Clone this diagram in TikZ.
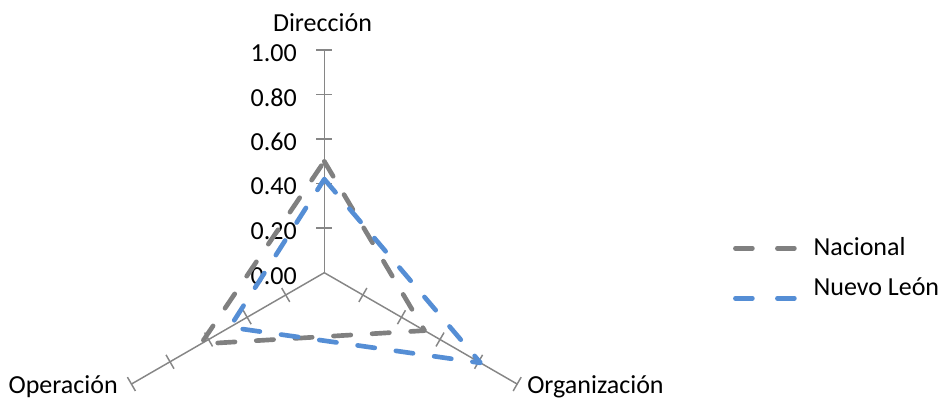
\documentclass[tikz,border=0pt]{standalone}
\usepackage{fontspec}
\setmainfont{Carlito}
\definecolor{axisgray}{HTML}{868686}
\definecolor{natgray}{HTML}{808080}
\definecolor{nlblue}{HTML}{558ED5}

\begin{document}
\begin{tikzpicture}[
    x=0.75pt, y=0.75pt,
    axis/.style={draw=axisgray, line width=1.1pt},
    series/.style={line width=3.5pt, line cap=round, line join=round,
        dash pattern=on 13pt off 16pt},
    nacional/.style={series, draw=natgray},
    nuevoleon/.style={series, draw=nlblue},
    legline/.style={line width=3.5pt, line cap=round,
        dash pattern=on 12.75pt off 18.75pt},
    axlabel/.style={font=\fontsize{19.5}{23}\selectfont, inner sep=0pt},
    ticklabel/.style={font=\fontsize{19.5}{23}\selectfont, inner sep=0pt, anchor=east}
]
    \useasboundingbox (-324.3,-127.3) rectangle (616.7,272.7);

    % axes
    \coordinate (o) at (0,0);
    \coordinate (dir) at (90:222.7);
    \coordinate (org) at (-30:222.7);
    \coordinate (ope) at (210:222.7);
    \draw[axis] (o) -- (dir);
    \draw[axis] (o) -- (org);
    \draw[axis] (o) -- (ope);
    \foreach \a in {90,-30,210}
        \foreach \k in {1,...,5}
            \draw[axis] (\a:\k*44.54) ++(\a+90:8) -- ++(\a-90:16);

    % scale
    \foreach \v/\t in {0/0.00, 1/0.20, 2/0.40, 3/0.60, 4/0.80, 5/1.00}
        \node[ticklabel] (t\v) at (-27.3,\v*44.54-3) {\t};

    % axis names
    \node[axlabel, anchor=base] (ldir) at (-1.8,241) {Dirección};
    \node[axlabel, anchor=base east] (lope) at (-206.3,-121) {Operación};
    \node[axlabel, anchor=base west] (lorg) at (202.7,-121) {Organización};

    % data
    \coordinate (n1) at (90:0.50*222.7);
    \coordinate (n2) at (-30:0.52*222.7);
    \coordinate (n3) at (210:0.64*222.7);
    \coordinate (l1) at (90:0.42*222.7);
    \coordinate (l2) at (-30:0.81*222.7);
    \coordinate (l3) at (210:0.49*222.7);
    \draw[nacional] (n1) -- (n2) -- (n3) -- cycle;
    \draw[nuevoleon] (l1) -- (l2) -- (l3) -- cycle;

    % legend
    \coordinate (a1) at (411.1,24.4);
    \coordinate (b1) at (470.3,24.4);
    \coordinate (a2) at (411.1,-25.6);
    \coordinate (b2) at (470.3,-25.6);
    \draw[legline, draw=natgray] (a1) -- (b1);
    \draw[legline, draw=nlblue] (a2) -- (b2);
    \node[axlabel, anchor=base west] (leg1) at (489,17.7) {Nacional};
    \node[axlabel, anchor=base west] (leg2) at (489,-22.3) {Nuevo León};
\end{tikzpicture}
\end{document}
